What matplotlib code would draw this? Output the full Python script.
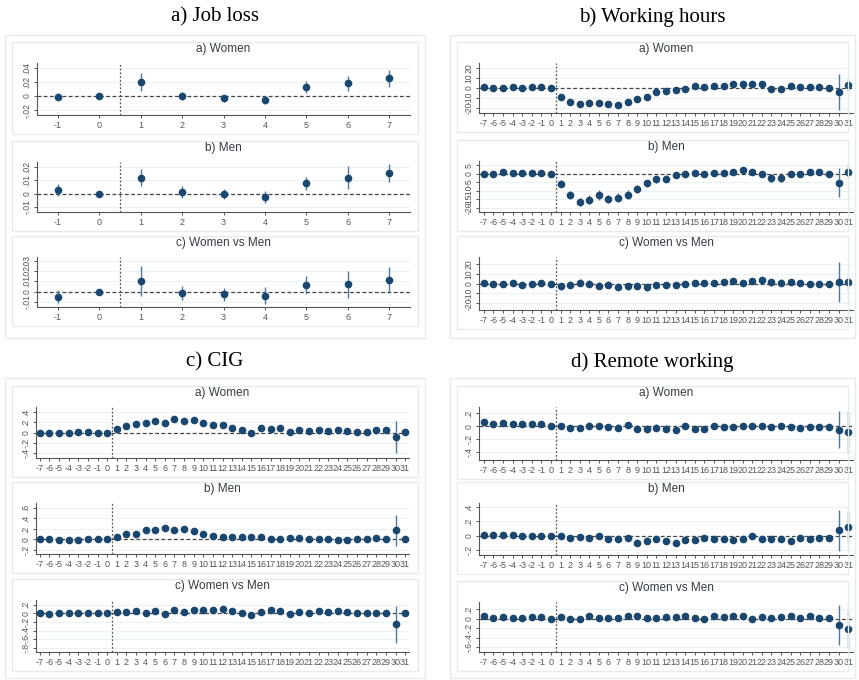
import matplotlib
matplotlib.use("Agg")
import matplotlib.pyplot as plt
from matplotlib.patches import Rectangle

plt.rcParams["font.family"] = ["Liberation Sans", "DejaVu Sans"]

W, H = 859, 680

# event-time axes
k_job = [-1, 0, 1, 2, 3, 4, 5, 6, 7]
k_long = list(range(-7, 32))

# a) Job loss
job_w = [-0.001, 0, 0.0195, 0, -0.003, -0.006, 0.013, 0.018, 0.025]
job_w_ci = [0.005, 0, 0.013, 0.006, 0.005, 0.006, 0.008, 0.011, 0.012]
job_m = [0.0026, 0, 0.012, 0.0013, -0.0005, -0.0023, 0.0077, 0.012, 0.0154]
job_m_ci = [0.0045, 0, 0.0065, 0.0045, 0.0037, 0.0045, 0.005, 0.0088, 0.0068]
job_d = [-0.005, 0, 0.01, -0.0017, -0.0027, -0.004, 0.0063, 0.007, 0.011]
job_d_ci = [0.0063, 0, 0.0145, 0.0067, 0.0065, 0.008, 0.009, 0.013, 0.0124]

# b) Working hours
hrs_w = [0.7, 0, 0.3, 1.3, -0.3, 0.7, 1.3, 0, -8.7, -13.7, -15.7, -15.3, -15, -15.7, -17.3,
         -14.3, -10.7, -9.3, -4.3, -3.3, -2.3, -0.7, 1.7, 1, 2, 2.3, 4, 3.7, 4, 3.7, -0.7,
         -1, 2, 1.3, 1, 0.7, 0.3, -3.7, 2.7]
hrs_w_ci = [1.2, 1, 1, 1.2, 1, 1, 1.2, 0, 2.5, 2.5, 2.5, 2.5, 3, 3, 3, 3, 2.5, 2.5, 2, 2, 2,
            2, 2, 2, 2, 2, 2, 2, 2, 2, 3, 3, 2, 2, 2, 2, 2, 18, 6.5]
hrs_m = [0, -0.2, 0.8, 0.2, 0.4, 0.2, 0.6, 0, -5.9, -12.5, -16.5, -15.1, -12.5, -14.9, -13.9,
         -12.2, -8.8, -5.5, -3.3, -2.9, -1, -0.4, 0.4, -0.4, 0.2, 0.2, 1, 2.2, 0.8, -0.2, -2.4,
         -2.2, 0, -0.2, 0.8, 0.8, 0, -5.3, 1]
hrs_m_ci = [1, 1, 1, 1, 1, 1, 1, 0, 2, 2.5, 2.5, 2.5, 3, 2.5, 2.8, 2.8, 2.5, 2, 2, 2, 1.5,
            1.5, 1.5, 1.5, 1.5, 1.5, 1.5, 1.5, 1.5, 1.8, 2.5, 2.5, 1.8, 1.5, 1.5, 1.5, 1.5,
            8.5, 4.2]
hrs_d = [0.3, -0.3, -0.7, 1, -1.4, 0, 0.3, 0, -2.4, -1, 1, 0, -2, -1, -3.4, -2.4, -2, -3.8,
         -1.7, -1, -1.7, -0.7, 0.7, 1, 1, 1.4, 2.4, 0.7, 2.7, 3.4, 1.7, 1, 1.7, 0.7, -0.3,
         -0.7, 0, 2, 1.4]
hrs_d_ci = [1.5, 1.5, 1.5, 1.5, 1.5, 1.5, 1.5, 0, 3.5, 3.5, 3.5, 3.5, 3.5, 3.5, 3.5, 3.5,
            3.5, 3.5, 3, 3, 3, 3, 3, 3, 3, 3, 3, 3, 3, 3, 3.5, 3.5, 3, 3, 3, 3, 3, 20.5, 7.7]

# c) CIG
cig_w = [0, 0, -0.006, -0.006, 0.006, 0.006, 0, 0, 0.077, 0.135, 0.174, 0.19, 0.23, 0.19,
         0.26, 0.23, 0.24, 0.19, 0.14, 0.15, 0.084, 0.05, 0, 0.084, 0.077, 0.084, 0.013,
         0.04, 0.026, 0.045, 0.03, 0.045, 0.03, 0.013, 0.013, 0.04, 0.045, -0.084, 0.013]
cig_w_ci = [0.015, 0.015, 0.015, 0.015, 0.015, 0.015, 0.015, 0, 0.035, 0.04, 0.05, 0.045,
            0.06, 0.055, 0.05, 0.05, 0.045, 0.045, 0.04, 0.04, 0.04, 0.035, 0.03, 0.035,
            0.035, 0.035, 0.03, 0.03, 0.03, 0.03, 0.03, 0.03, 0.03, 0.03, 0.03, 0.03, 0.03,
            0.31, 0.03]
cig_m = [0, 0, -0.013, -0.013, -0.006, 0, 0, 0, 0.04, 0.094, 0.11, 0.18, 0.18, 0.21, 0.18,
         0.19, 0.16, 0.106, 0.06, 0.05, 0.04, 0.044, 0.044, 0.056, 0, 0.013, 0.025, 0.019,
         0.013, 0, 0.006, -0.013, -0.006, 0.013, 0, 0.019, 0.013, 0.17, 0]
cig_m_ci = [0.012, 0.012, 0.012, 0.012, 0.012, 0.012, 0.012, 0, 0.025, 0.03, 0.035, 0.035,
            0.035, 0.035, 0.035, 0.035, 0.035, 0.03, 0.03, 0.025, 0.025, 0.025, 0.025,
            0.025, 0.02, 0.02, 0.02, 0.02, 0.02, 0.02, 0.02, 0.02, 0.02, 0.02, 0.02, 0.02,
            0.02, 0.29, 0.02]
cig_d = [0, -0.008, 0.008, 0.008, 0.008, 0.008, 0.008, 0, 0.04, 0.03, 0.063, 0.008, 0.055,
         -0.008, 0.08, 0.03, 0.07, 0.08, 0.08, 0.095, 0.047, 0.016, -0.047, 0.024, 0.07,
         0.063, -0.008, 0.024, 0.016, 0.047, 0.03, 0.063, 0.04, 0, 0.016, 0.016, 0.016,
         -0.26, 0.016]
cig_d_ci = [0.015, 0.015, 0.015, 0.015, 0.015, 0.015, 0.015, 0, 0.035, 0.035, 0.045, 0.04,
            0.05, 0.065, 0.045, 0.045, 0.045, 0.045, 0.04, 0.04, 0.04, 0.035, 0.035, 0.035,
            0.035, 0.035, 0.03, 0.03, 0.03, 0.03, 0.03, 0.03, 0.03, 0.03, 0.03, 0.03, 0.03,
            0.43, 0.03]

# d) Remote working
rem_w = [0.063, 0.032, 0.042, 0.037, 0.032, 0.026, 0.026, 0, 0.01, -0.026, -0.026, 0.01,
         0.005, -0.021, -0.026, 0.016, -0.037, -0.047, -0.026, -0.037, -0.058, 0.01, -0.042,
         -0.037, 0.01, -0.01, -0.016, -0.005, -0.005, -0.005, -0.016, -0.005, -0.01,
         -0.026, -0.01, -0.01, -0.016, -0.053, -0.09]
rem_w_ci = [0.02, 0.02, 0.02, 0.02, 0.02, 0.02, 0.02, 0, 0.04, 0.045, 0.045, 0.05, 0.05,
            0.045, 0.055, 0.05, 0.055, 0.06, 0.055, 0.055, 0.045, 0.045, 0.045, 0.045,
            0.04, 0.04, 0.04, 0.035, 0.035, 0.035, 0.035, 0.035, 0.035, 0.035, 0.035,
            0.035, 0.035, 0.29, 0.32]
rem_m = [0.005, 0.005, 0.005, 0.01, 0, -0.005, -0.01, 0, -0.014, -0.029, -0.019, -0.033,
         -0.01, -0.043, -0.048, -0.038, -0.1, -0.071, -0.052, -0.071, -0.1, -0.057, -0.067,
         -0.033, -0.048, -0.048, -0.067, -0.052, -0.014, -0.048, -0.043, -0.043, -0.076,
         -0.038, -0.052, -0.029, -0.029, 0.076, 0.12]
rem_m_ci = [0.015, 0.015, 0.015, 0.015, 0.015, 0.015, 0.015, 0, 0.03, 0.035, 0.035, 0.035,
            0.035, 0.04, 0.04, 0.04, 0.045, 0.045, 0.04, 0.04, 0.04, 0.04, 0.035, 0.035,
            0.035, 0.035, 0.035, 0.035, 0.03, 0.03, 0.03, 0.03, 0.03, 0.03, 0.03, 0.03,
            0.03, 0.29, 0.22]
rem_d = [0.057, 0.021, 0.036, 0.014, 0.021, 0.029, 0.029, 0, 0.029, 0, -0.014, 0.05, 0.014,
         0.021, 0.014, 0.057, 0.064, 0.021, 0.014, 0.036, 0.043, 0.064, 0.021, 0, 0.057,
         0.029, 0.05, 0.05, 0, 0.036, 0.021, 0.036, 0.071, 0.014, 0.05, 0.014, 0.014,
         -0.14, -0.22]
rem_d_ci = [0.02, 0.02, 0.02, 0.02, 0.02, 0.02, 0.02, 0, 0.04, 0.04, 0.045, 0.045, 0.045,
            0.045, 0.05, 0.05, 0.05, 0.065, 0.05, 0.045, 0.045, 0.045, 0.04, 0.04, 0.04,
            0.04, 0.04, 0.035, 0.035, 0.035, 0.035, 0.035, 0.035, 0.035, 0.035, 0.035,
            0.035, 0.43, 0.4]

group_titles = ["a) Job loss", "b) Working hours", "c) CIG", "d) Remote working"]
panel_titles = ["a) Women", "b) Men", "c) Women vs Men"]

MARK = "#1a476f"
BAR = "#4a7aa3"
FRAME = "#e4ecee"
GRID = "#eaf2f3"
TXT = "#333c46"


def stata_fmt(v):
    if v == 0:
        return "0"
    if float(v).is_integer():
        return str(int(v))
    s = ("%g" % v)
    return s.replace("0.", ".")


def px_rect(l, t, r, b):
    return [l / W, 1 - b / H, (r - l) / W, (b - t) / H]


def frame(fig, l, t, r, b):
    fig.patches.append(Rectangle((l / W, 1 - b / H), (r - l) / W, (b - t) / H,
                                 transform=fig.transFigure, fill=False,
                                 edgecolor=FRAME, lw=1.0))


def panel(fig, rect, x, y, ci, ylim, yticks, xlim, title):
    ax = fig.add_axes(px_rect(*rect))
    for t in yticks:
        ax.axhline(t, color=GRID, lw=0.8, zorder=0)
    ax.axhline(0, color="#444444", lw=0.9, ls=(0, (3, 2)), zorder=1)
    ax.axvline(0.5, color="#555555", lw=0.9, ls=(0, (1.5, 1.5)), zorder=1)
    lo = [a - c for a, c in zip(y, ci)]
    hi = [a + c for a, c in zip(y, ci)]
    ax.vlines(x, lo, hi, color=BAR, lw=1.0, zorder=2, clip_on=False)
    ax.plot(x, y, "o", color=MARK, ms=4.5, zorder=3, clip_on=False)
    ax.set_xlim(*xlim)
    ax.set_ylim(*ylim)
    ax.set_xticks(x)
    ax.set_xticklabels([str(v) for v in x], fontsize=6.5, color=TXT)
    ax.set_yticks(yticks)
    ax.set_yticklabels([stata_fmt(v) for v in yticks], fontsize=6.2, color=TXT,
                       rotation=90, va="center")
    ax.tick_params(length=2.5, width=0.7, colors="#555555", pad=1.5)
    for s in ["top", "right"]:
        ax.spines[s].set_visible(False)
    for s in ["left", "bottom"]:
        ax.spines[s].set_color("#555555")
        ax.spines[s].set_linewidth(0.8)
    cx = (rect[0] + rect[2]) / 2
    fig.text(cx / W, 1 - (rect[1] - 8) / H, title, ha="center", va="bottom",
             fontsize=8.5, color=TXT)
    return ax


fig = plt.figure(figsize=(W / 100, H / 100), dpi=100)
fig.patch.set_facecolor("white")

groups = [
    dict(x=k_job, xlim=(-1.5, 7.5), left=37, right=410, gl=5, gr=425,
         tops=[(63, 115), (162, 212), (257, 307)], gt=35, gb=338, ty=17,
         series=[(job_w, job_w_ci, (-0.027, 0.047), [-0.02, 0, 0.02, 0.04]),
                 (job_m, job_m_ci, (-0.014, 0.024), [-0.01, 0, 0.01, 0.02]),
                 (job_d, job_d_ci, (-0.015, 0.0335), [-0.01, 0, 0.01, 0.02, 0.03])]),
    dict(x=k_long, xlim=(-7.5, 31.5), left=479, right=853, gl=450, gr=855,
         tops=[(63, 113), (161, 212), (257, 310)], gt=35, gb=338, ty=17,
         series=[(hrs_w, hrs_w_ci, (-25, 25), [-20, -10, 0, 10, 20]),
                 (hrs_m, hrs_m_ci, (-22.4, 7.5), [-20, -15, -10, -5, 0, 5]),
                 (hrs_d, hrs_d_ci, (-27, 27.6), [-20, -10, 0, 10, 20])]),
    dict(x=k_long, xlim=(-7.4, 31.4), left=36, right=409, gl=5, gr=425,
         tops=[(407, 458), (503, 554), (600, 652)], gt=378, gb=678, ty=362,
         series=[(cig_w, cig_w_ci, (-0.5, 0.5), [-0.4, -0.2, 0, 0.2, 0.4]),
                 (cig_m, cig_m_ci, (-0.275, 0.69), [-0.2, 0, 0.2, 0.4, 0.6]),
                 (cig_d, cig_d_ci, (-0.9, 0.31), [-0.8, -0.6, -0.4, -0.2, 0, 0.2])]),
    dict(x=k_long, xlim=(-7.5, 31.5), left=479, right=853, gl=450, gr=855,
         tops=[(407, 460), (503, 555), (602, 652)], gt=378, gb=678, ty=362,
         series=[(rem_w, rem_w_ci, (-0.53, 0.3), [-0.4, -0.2, 0, 0.2]),
                 (rem_m, rem_m_ci, (-0.276, 0.46), [-0.2, 0, 0.2, 0.4]),
                 (rem_d, rem_d_ci, (-0.71, 0.36), [-0.6, -0.4, -0.2, 0, 0.2])]),
]

for g, gtitle in zip(groups, group_titles):
    frame(fig, g["gl"], g["gt"], g["gr"], g["gb"])
    fig.text(((g["gl"] + g["gr"]) / 2) / W, 1 - g["ty"] / H, gtitle, ha="center",
             va="center", fontsize=15, family="Liberation Serif", color="black")
    for (t, b), (y, ci, ylim, yt), ptitle in zip(g["tops"], g["series"], panel_titles):
        frame(fig, g["gl"] + 7, t - 21, g["gr"] - 7, b + 19)
        panel(fig, (g["left"], t, g["right"], b), g["x"], y, ci, ylim, yt, g["xlim"], ptitle)

fig.savefig("out.png", dpi=100)
